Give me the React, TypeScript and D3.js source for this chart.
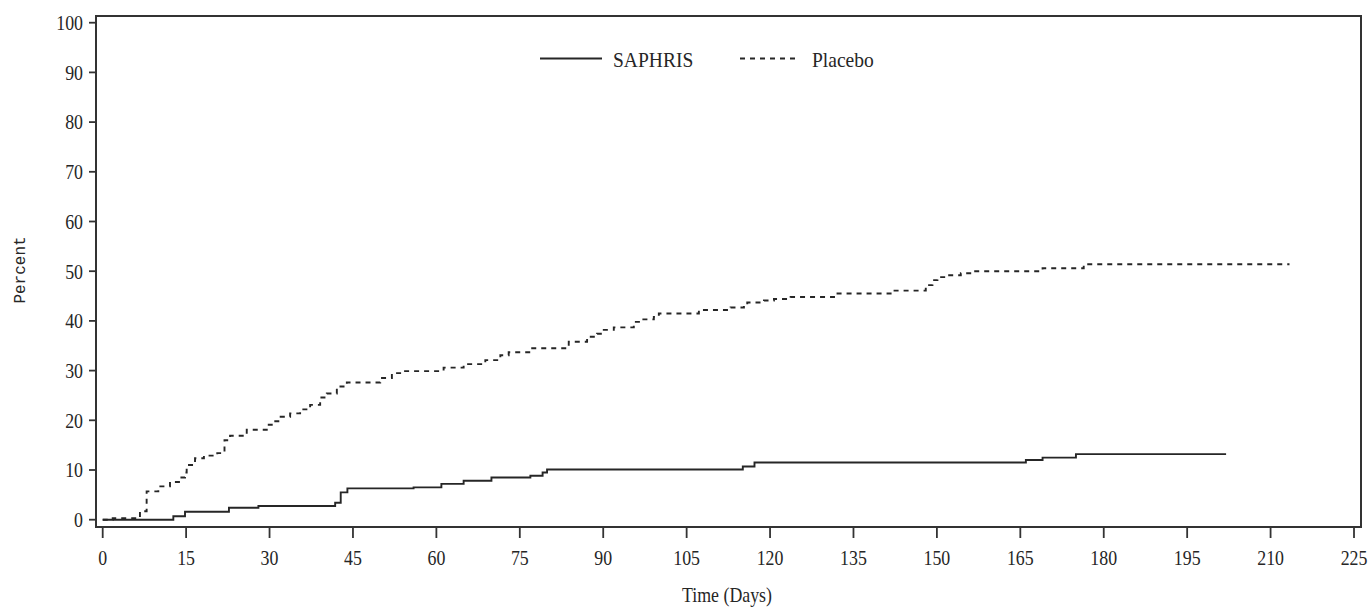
import React, { useEffect, useRef } from 'react';
import * as d3 from 'd3';

// step points: [day, percent]
const saphris: [number, number][] = [
  [0, 0], [12.7, 0.7], [14.8, 1.6], [22.7, 2.4], [28, 2.75], [41.8, 3.4], [42.8, 5.5],
  [44, 6.3], [55.9, 6.5], [60.9, 7.2], [64.9, 7.85], [69.9, 8.5], [76.9, 8.85],
  [79.1, 9.5], [79.9, 10.1], [115.1, 10.7], [117.2, 11.5], [166, 12.0], [169, 12.5],
  [175, 13.2], [202, 13.2],
];

const placebo: [number, number][] = [
  [0, 0], [1.8, 0.3], [6.7, 1.7], [7.9, 5.7], [10, 6.7], [12.1, 7.6], [13.9, 8.5],
  [14.8, 9.5], [15.1, 11], [16.6, 12.35], [18.2, 12.9], [20.6, 13.4], [21.9, 16],
  [22.9, 16.9], [25.9, 18.1], [29.5, 19.1], [30.4, 19.8], [32, 20.7], [33.7, 21.4],
  [35.5, 22.2], [37.3, 23.1], [39.1, 24.6], [40.3, 25.4], [42.1, 26.8], [43.9, 27.6],
  [49.9, 28.5], [52, 29.5], [53.8, 29.9], [61.3, 30.6], [64.9, 31.3], [68.8, 32.1],
  [71.5, 33.1], [73, 33.7], [76.9, 34.5], [83.8, 35.8], [87.1, 36.8], [88.9, 37.4],
  [90.1, 38.2], [91.9, 38.7], [95.5, 39.8], [96.7, 40.3], [99.1, 40.8], [100, 41.5],
  [107.2, 42.2], [112.9, 42.7], [115.3, 43.2], [115.9, 43.7], [118.9, 44.1],
  [120.7, 44.4], [123.7, 44.8], [131.5, 45.5], [142, 46.1], [148, 47.2], [149.2, 48.2],
  [150.1, 48.8], [152.2, 49.2], [154.3, 49.6], [156.4, 50.0], [169, 50.6],
  [176.4, 51.4], [213.4, 51.4],
];

const xTicks = d3.range(0, 226, 15);
const yTicks = d3.range(0, 101, 10);
const seriesNames = ['SAPHRIS', 'Placebo'];

const W = 1369;
const H = 607;
const FONT = '"Liberation Serif", "Times New Roman", serif';
const INK = '#262626';

const App: React.FC = () => {
  const svgRef = useRef<SVGSVGElement>(null);

  useEffect(() => {
    if (!svgRef.current) return;
    const svg = d3.select(svgRef.current);
    svg.selectAll('*').remove();

    const x = d3.scaleLinear().domain([0, 225]).range([102.7, 1354]);
    const y = d3.scaleLinear().domain([0, 100]).range([519.7, 22.7]);

    const frame = { left: 96, right: 1361, top: 16, bottom: 527 };

    // frame
    svg.append('rect')
      .attr('x', frame.left).attr('y', frame.top)
      .attr('width', frame.right - frame.left)
      .attr('height', frame.bottom - frame.top)
      .attr('fill', 'none')
      .attr('stroke', '#333')
      .attr('stroke-width', 2);

    const squeezedText = (
      g: any, tx: number, ty: number, txt: string, anchor: string, sx = 0.85, size = 21
    ) => {
      g.append('text')
        .attr('transform', `translate(${tx},${ty}) scale(${sx},1)`)
        .attr('text-anchor', anchor)
        .attr('font-family', FONT)
        .attr('font-size', size)
        .attr('fill', INK)
        .text(txt);
    };

    // y axis ticks
    const ya = svg.append('g');
    yTicks.forEach(t => {
      ya.append('line')
        .attr('x1', 89).attr('x2', frame.left)
        .attr('y1', y(t)).attr('y2', y(t))
        .attr('stroke', '#333').attr('stroke-width', 1.8);
      squeezedText(ya, 83, y(t) + 7.3, String(t), 'end');
    });

    // x axis ticks
    const xa = svg.append('g');
    xTicks.forEach(t => {
      xa.append('line')
        .attr('x1', x(t)).attr('x2', x(t))
        .attr('y1', frame.bottom).attr('y2', 538)
        .attr('stroke', '#333').attr('stroke-width', 1.8);
      squeezedText(xa, x(t), 564.5, String(t), 'middle');
    });

    // axis titles
    squeezedText(svg, 727, 602, 'Time (Days)', 'middle');
    svg.append('text')
      .attr('transform', 'translate(25,270) rotate(-90)')
      .attr('text-anchor', 'middle')
      .attr('font-family', '"Liberation Mono", "DejaVu Sans Mono", monospace')
      .attr('font-size', 16)
      .attr('fill', INK)
      .text('Percent');

    // curves
    const line = d3.line<[number, number]>()
      .x(d => x(d[0]))
      .y(d => y(d[1]))
      .curve(d3.curveStepAfter);

    svg.append('path')
      .datum(saphris)
      .attr('fill', 'none')
      .attr('stroke', INK)
      .attr('stroke-width', 1.9)
      .attr('d', line);

    svg.append('path')
      .datum(placebo)
      .attr('fill', 'none')
      .attr('stroke', INK)
      .attr('stroke-width', 1.9)
      .attr('stroke-dasharray', '5,5')
      .attr('d', line);

    // legend
    const lg = svg.append('g');
    const legendItems = [
      { name: seriesNames[0], x0: 540, x1: 602, tx: 613, dash: null as string | null },
      { name: seriesNames[1], x0: 740, x1: 800, tx: 812, dash: '5,5' },
    ];
    legendItems.forEach(it => {
      lg.append('line')
        .attr('x1', it.x0).attr('x2', it.x1)
        .attr('y1', 58.5).attr('y2', 58.5)
        .attr('stroke', INK).attr('stroke-width', 1.9)
        .attr('stroke-dasharray', it.dash);
      squeezedText(lg, it.tx, 67, it.name, 'start', 0.93);
    });
  }, []);

  return (
    <svg
      ref={svgRef}
      width={W}
      height={H}
      viewBox={`0 0 ${W} ${H}`}
      style={{ position: 'absolute', left: 0, top: 0, background: '#fff' }}
    />
  );
};

export default App;
